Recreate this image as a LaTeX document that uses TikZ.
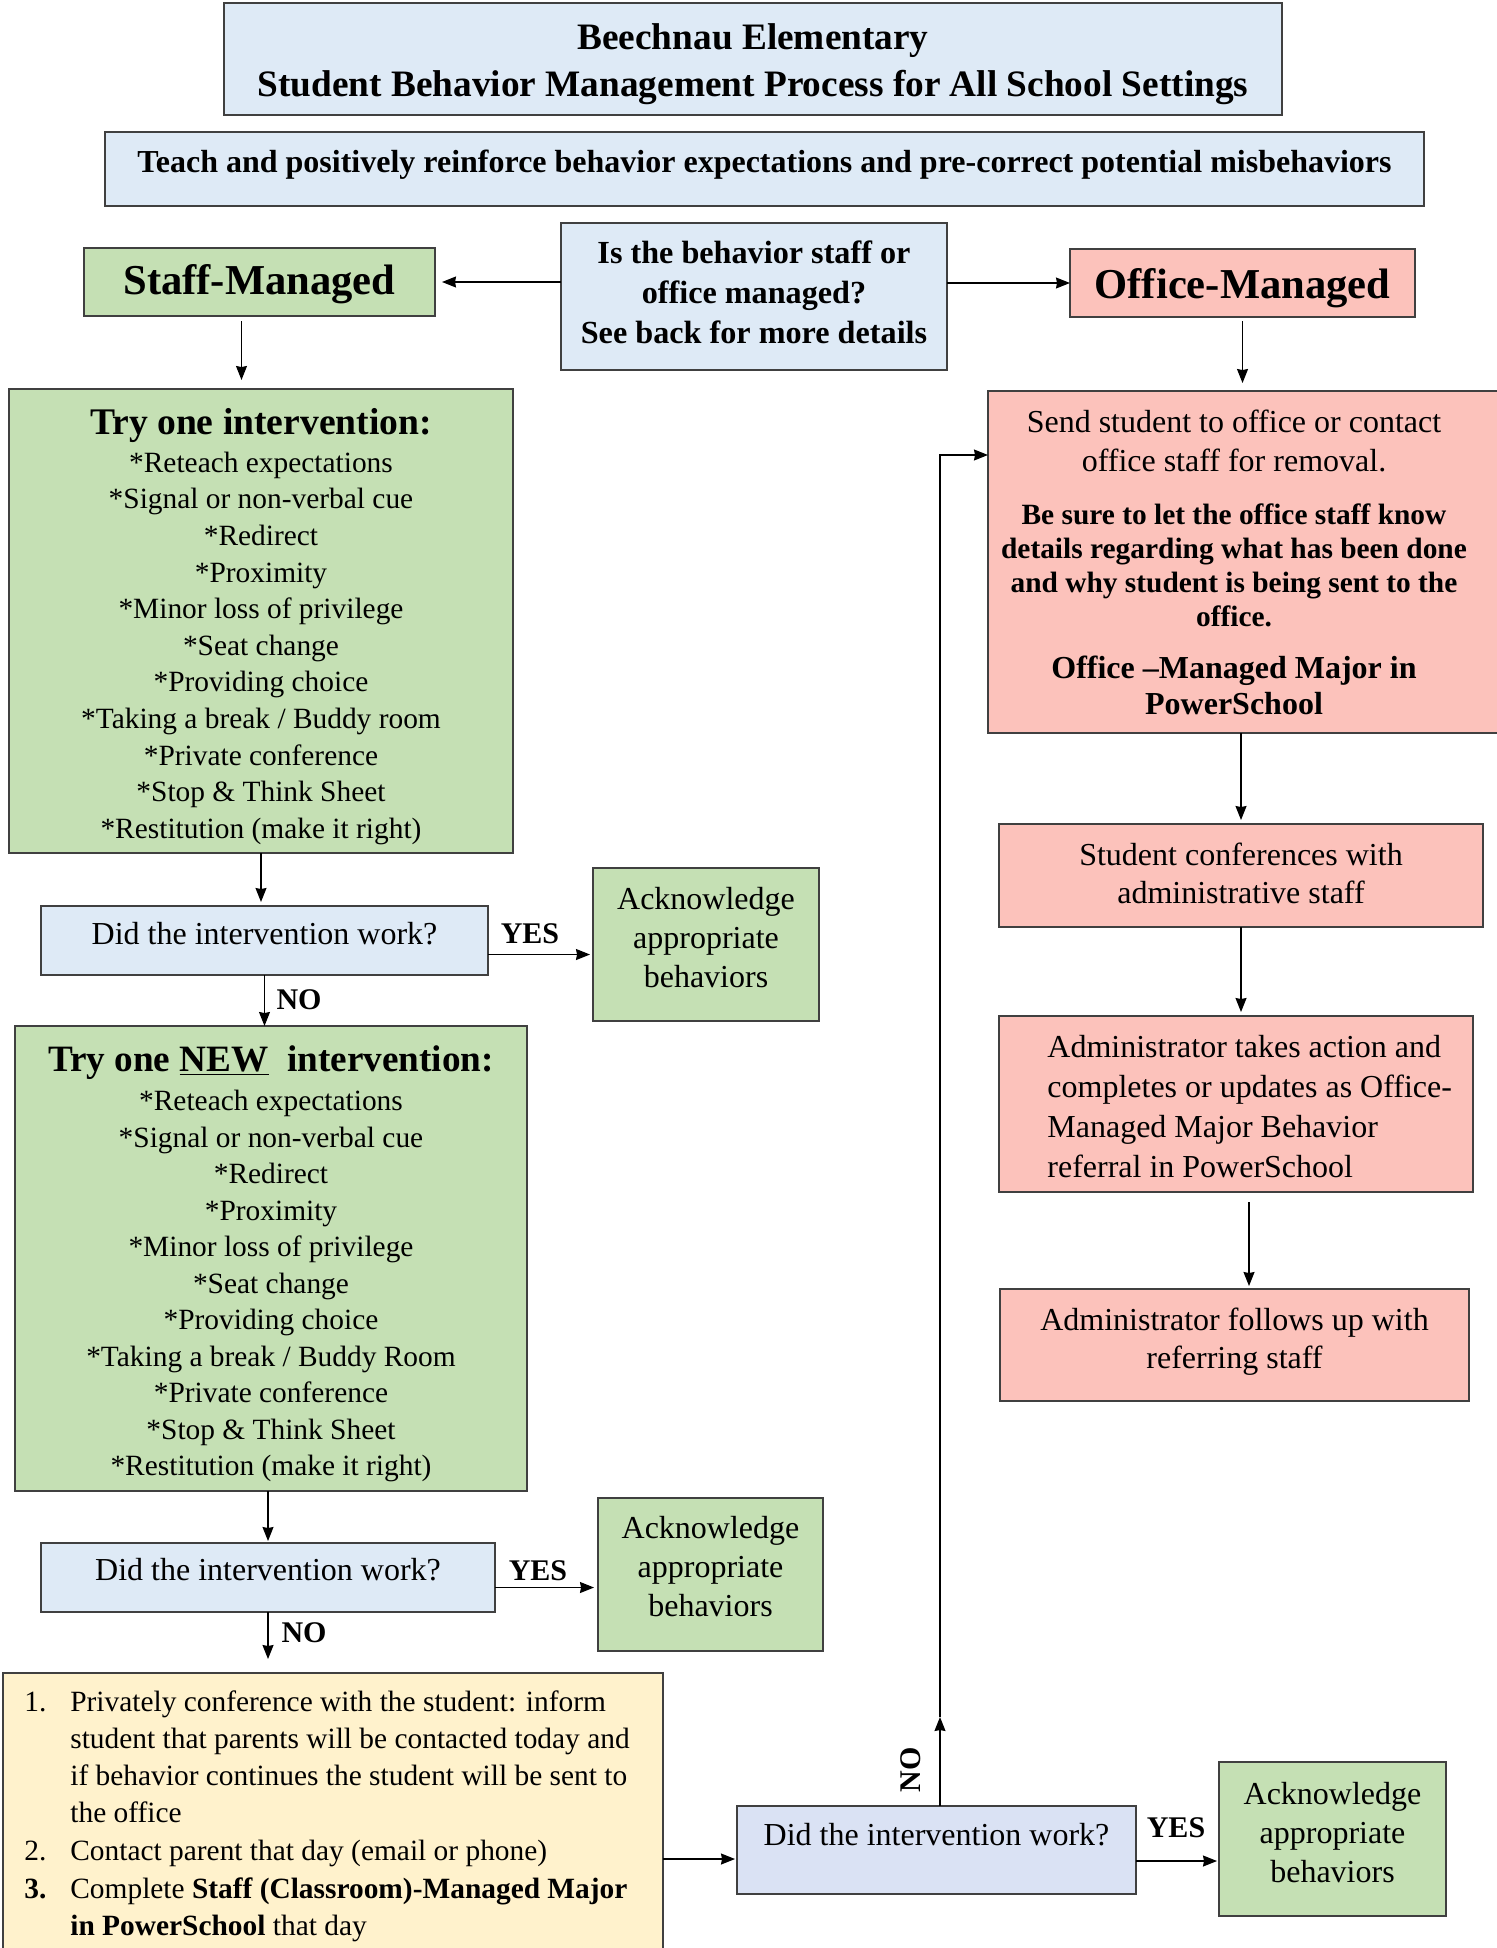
\documentclass[tikz,border=0pt]{standalone}
\usepackage{fontspec}
\setmainfont{Liberation Serif}
\usetikzlibrary{arrows.meta}

\definecolor{hdrblue}{HTML}{DEEAF6}
\definecolor{staffgreen}{HTML}{C5E0B4}
\definecolor{officepink}{HTML}{FCC2BB}
\definecolor{noteyellow}{HTML}{FFF2CC}
\definecolor{askblue}{HTML}{DAE2F4}
\definecolor{edgegray}{HTML}{404040}

% move a text block up or down inside its box
\newcommand{\shiftup}[2]{\raisebox{#1}[\height][\depth]{\begin{tabular}{@{}c@{}}#2\end{tabular}}}
\newcommand{\acktext}[1]{\shiftup{#1}{Acknowledge\\appropriate\\behaviors}}
\newcommand{\sendbold}{\fontsize{14.7}{17}\selectfont\bfseries}
\newcommand{\sendmajor}{\fontsize{16}{18}\selectfont\bfseries}

\begin{document}
\begin{tikzpicture}[x=0.5pt, y=-0.5pt]
	\useasboundingbox (0,0) rectangle (1496,1948);
	\begin{scope}[every node/.style = {draw=edgegray, line width=0.7pt, inner sep=0pt, outer sep=0pt, align=center}]
		% header
		\node[fill=hdrblue, minimum width=529pt, minimum height=56pt, font=\fontsize{18.65}{23.5}\selectfont\bfseries] (title) at (753,59) {\shiftup{-2.15pt}{Beechnau Elementary\\Student Behavior Management Process for All School Settings}};
		\node[fill=hdrblue, minimum width=659.5pt, minimum height=37pt, font=\fontsize{16}{18}\selectfont\bfseries] (teach) at (764.5,169) {\shiftup{1.65pt}{Teach and positively reinforce behavior expectations and pre-correct potential misbehaviors}};
		\node[fill=hdrblue, minimum width=193pt, minimum height=73.5pt, font=\fontsize{16.1}{20}\selectfont\bfseries] (question) at (754,296.5) {\shiftup{0.6pt}{Is the behavior staff or\\office managed?\\See back for more details}};
		\node[fill=staffgreen, minimum width=175.5pt, minimum height=34pt, font=\fontsize{21.3}{24}\selectfont\bfseries] (staff) at (259.5,282) {\shiftup{-1.6pt}{Staff-Managed}};
		\node[fill=officepink, minimum width=172.5pt, minimum height=34pt, font=\fontsize{21.3}{24}\selectfont\bfseries] (office) at (1242.5,283) {\shiftup{-2.9pt}{Office-Managed}};
		% staff side
		\node[fill=staffgreen, minimum width=252pt, minimum height=232pt, font=\fontsize{14.7}{18.3}\selectfont] (tryone) at (261,621) {\shiftup{-4pt}{{\fontsize{18.8}{20}\selectfont\bfseries Try one intervention:}\\[0.35pt]
			{*}Reteach expectations\\ {*}Signal or non-verbal cue\\ {*}Redirect\\ {*}Proximity\\ {*}Minor loss of privilege\\ {*}Seat change\\ {*}Providing choice\\ {*}Taking a break / Buddy room\\ {*}Private conference\\ {*}Stop \& Think Sheet\\ {*}Restitution (make it right)}};
		\node[fill=hdrblue, minimum width=223.5pt, minimum height=34.5pt, font=\fontsize{16}{18}\selectfont] (work1) at (264.5,940.5) {\shiftup{1.6pt}{Did the intervention work?}};
		\node[fill=staffgreen, minimum width=113pt, minimum height=76.5pt, font=\fontsize{16}{19.5}\selectfont] (ack1) at (706,944.5) {\acktext{2.05pt}};
		\node[fill=staffgreen, minimum width=256pt, minimum height=232.5pt, font=\fontsize{14.7}{18.25}\selectfont] (trynew) at (271,1258.5) {\shiftup{-3.7pt}{{\fontsize{18.6}{20}\selectfont\bfseries Try one \underline{NEW}\ \ intervention:}\\[1.45pt]
			{*}Reteach expectations\\ {*}Signal or non-verbal cue\\ {*}Redirect\\ {*}Proximity\\ {*}Minor loss of privilege\\ {*}Seat change\\ {*}Providing choice\\ {*}Taking a break / Buddy Room\\ {*}Private conference\\ {*}Stop \& Think Sheet\\ {*}Restitution (make it right)}};
		\node[fill=hdrblue, minimum width=227pt, minimum height=34.5pt, font=\fontsize{16}{18}\selectfont] (work2) at (268,1577.5) {\shiftup{2pt}{Did the intervention work?}};
		\node[fill=staffgreen, minimum width=112.5pt, minimum height=76.5pt, font=\fontsize{16}{19.5}\selectfont] (ack2) at (710.5,1574.5) {\acktext{2.5pt}};
		\node[fill=noteyellow, minimum width=330pt, minimum height=143.5pt, align=left, font=\fontsize{14.7}{18.5}\selectfont] (parent) at (333,1816.5) {%
			\begin{tabular}{@{}p{23pt}@{}l@{\hspace{6pt}}}
				1. & Privately conference with the student: inform\\
				   & student that parents will be contacted today and\\
				   & if behavior continues the student will be sent to\\
				   & the office\\[0.5pt]
				2. & Contact parent that day (email or phone)\\[0.5pt]
				\textbf{3.} & Complete \textbf{Staff (Classroom)-Managed Major}\\
				   & \textbf{in PowerSchool} that day
			\end{tabular}};
		\node[fill=askblue, minimum width=199.5pt, minimum height=44pt, font=\fontsize{16}{18}\selectfont] (work3) at (936.5,1850) {\shiftup{5.9pt}{Did the intervention work?}};
		\node[fill=staffgreen, minimum width=113.5pt, minimum height=77pt, font=\fontsize{16}{19.5}\selectfont] (ack3) at (1332.5,1839) {\acktext{1.9pt}};
		% office side
		\node[fill=officepink, minimum width=256pt, minimum height=171pt, font=\fontsize{16}{19.5}\selectfont] (send) at (1244,562) {%
			\raisebox{-1.7pt}[\height][\depth]{\begin{tabular}{@{}c@{\hspace{10pt}}}
				Send student to office or contact\\
				office staff for removal.\\[7.2pt]
				\sendbold Be sure to let the office staff know\\[-2.5pt]
				\sendbold details regarding what has been done\\[-2.5pt]
				\sendbold and why student is being sent to the\\[-2.5pt]
				\sendbold office.\\[6.5pt]
				\sendmajor Office --Managed Major in\\[-1.5pt]
				\sendmajor PowerSchool
			\end{tabular}}};
		\node[fill=officepink, minimum width=242pt, minimum height=51.5pt, font=\fontsize{16}{19}\selectfont] (conf) at (1241,875.5) {\shiftup{-0.65pt}{Student conferences with\\administrative staff}};
		\node[fill=officepink, minimum width=237pt, minimum height=88pt, font=\fontsize{16}{20}\selectfont] (action) at (1236,1104) {\raisebox{-2.8pt}[\height][\depth]{\begin{tabular}{@{\hspace{13.7pt}}l@{}}Administrator takes action and\\completes or updates as Office-\\Managed Major Behavior\\referral in PowerSchool\end{tabular}}};
		\node[fill=officepink, minimum width=234.5pt, minimum height=56pt, font=\fontsize{16}{19}\selectfont] (follow) at (1234.5,1345) {\shiftup{1.55pt}{Administrator follows up with\\referring staff}};
	\end{scope}
	\begin{scope}[every node/.style = {inner sep=0pt, font=\fontsize{15}{18}\selectfont\bfseries}]
		\node (yes1) at (530,934) {YES};
		\node (no1) at (299,1000) {NO};
		\node (yes2) at (538,1571) {YES};
		\node (no2) at (304,1633) {NO};
		\node (yes3) at (1176,1828) {YES};
		\node[rotate=90] (no3) at (911,1770) {NO};
	\end{scope}
	\coordinate (uptip) at (940,1717);
	\coordinate (bend) at (940,455);
	\begin{scope}[>={Stealth[black, length=7pt, width=5.5pt, inset=0.5pt]},
			every edge/.style={draw=black, line width=0.6pt}]
		\path [->] (question.west |- staff.east) edge [shorten >=3.5pt] (staff.east);
		\path [->] (question.east |- office.west) edge (office.west);
		\path [->] ([xshift=-9pt]staff.south) edge [shorten <=2.5pt, shorten >=4.5pt] ([xshift=-9pt]staff.south |- tryone.north);
		\path [->] (office.south) edge [shorten <=2pt, shorten >=4pt] (office.south |- send.north);
		\path [->] (tryone.south) edge [shorten >=2pt] (tryone.south |- work1.north);
		\path [->] ([yshift=-7pt]work1.east) edge [shorten >=1.5pt] ([yshift=-7pt]work1.east -| ack1.west);
		\path [->] (work1.south) edge (work1.south |- trynew.north);
		\path [->] (work2.north |- trynew.south) edge [shorten >=1pt] (work2.north);
		\path [->] ([yshift=-5pt]work2.east) edge [shorten >=2pt] ([yshift=-5pt]work2.east -| ack2.west);
		\path [->] (work2.south) edge [shorten >=7pt] (work2.south |- parent.north);
		\path [->] ([yshift=-4.5pt]work3.west -| parent.east) edge [shorten >=1pt] ([yshift=-4.5pt]work3.west);
		\path [->] ([yshift=-5.5pt]work3.east) edge [shorten >=1pt] ([yshift=-5.5pt]work3.east -| ack3.west);
		\path [->] (work3.north -| uptip) edge (uptip);
		\draw [->, line width=0.6pt] (uptip) -- (bend) -- (bend -| send.west);
		\path [->] (conf.north |- send.south) edge [shorten >=2pt] (conf.north);
		\path [->] (conf.south) edge [shorten >=2pt] (conf.south |- action.north);
		\path [->] ([xshift=6.5pt, yshift=-5pt]action.south) edge [shorten >=1.5pt] ([xshift=6.5pt]action.south |- follow.north);
	\end{scope}
\end{tikzpicture}
\end{document}
